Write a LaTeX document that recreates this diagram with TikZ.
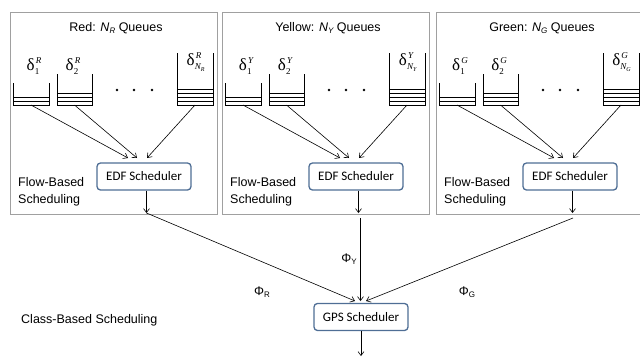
\documentclass[tikz,border=0pt]{standalone}
\usepackage{fontspec}
\setmainfont{Liberation Sans}
\newfontfamily\calfont{Carlito}
\newfontfamily\tmsfont{Liberation Serif}
\usetikzlibrary{arrows.meta}
\definecolor{schedblue}{HTML}{4F6E95}
\definecolor{panelgray}{HTML}{A0A0A0}
\newcommand\dlab[2]{{\tmsfont\fontsize{17}{17}\selectfont δ}{\tmsfont\fontsize{9}{9}\selectfont\rlap{\raisebox{-4pt}{#1}}\raisebox{7pt}{\kern1pt\itshape #2}}}
\newcommand\qbox[4]{%
  \draw[qline] (#1,#3) -- (#1,105) -- (#2,105) -- (#2,#3);
  \foreach \k in {1,...,#4} {\draw[qline] (#1,105-4*\k) -- (#2,105-4*\k);}
}
\begin{document}
\begin{tikzpicture}[x=1pt,y=-1pt,
  panel/.style={draw=panelgray, line width=0.8pt, inner sep=0pt, anchor=north west},
  sched/.style={draw=schedblue, line width=1.3pt, rounded corners=3.5pt, fill=white,
    minimum width=94pt, minimum height=27pt, inner sep=0pt,
    font=\calfont\fontsize{13}{14}\selectfont},
  qline/.style={line width=0.9pt, black},
  conn/.style={-{Straight Barb[length=4pt,width=6pt]}, line width=0.6pt},
  title/.style={font=\fontsize{12.5}{14}\selectfont, inner sep=0pt},
  lbl/.style={font=\fontsize{12.5}{17}\selectfont, align=left, inner sep=0pt},
  dl/.style={inner sep=0pt}]
\useasboundingbox (0,0) rectangle (640,357);

\foreach \c/\dx/\ttl in {R/0/Red, Y/212/Yellow, G/426/Green} {
 \begin{scope}[xshift=\dx]
   \node[panel, minimum width=207pt, minimum height=202pt] (panel\c) at (10,12) {};
   \node[title] (title\c) at (116,28) {\ttl: \textit{N}\raisebox{-2.5pt}{\fontsize{8}{8}\selectfont\itshape\c} Queues};
   \qbox{13}{49}{83}{2}
   \qbox{57}{92}{74}{3}
   \qbox{177}{213}{53}{4}
   \coordinate (qa\c) at (31,105);
   \coordinate (qb\c) at (74.5,105);
   \coordinate (qc\c) at (195,105);
   \node[dl] (da\c) at (34,66) {\dlab{1}{\c}};
   \node[dl] (db\c) at (73,66) {\dlab{2}{\c}};
   \node[dl] (dc\c) at (194,62) {\dlab{\itshape N\raisebox{-2pt}{\fontsize{6}{6}\selectfont\c}}{\c}};
   \fill (117,90) circle (1.3pt) (134,90) circle (1.3pt) (152,90) circle (1.3pt);
   \node[sched] (edf\c) at (144,176.5) {EDF Scheduler};
   \coordinate (ta\c) at (128,158);
   \coordinate (tb\c) at (137,158);
   \coordinate (tc\c) at (147,158);
   \draw[conn] (qa\c) -- (ta\c);
   \draw[conn] (qb\c) -- (tb\c);
   \draw[conn] (qc\c) -- (tc\c);
   \coordinate (out\c) at (146.5,213);
   \draw[conn] (edf\c.south -| out\c) -- (out\c);
   \node[lbl, anchor=west] (flow\c) at (18,192) {Flow-Based\\Scheduling};
 \end{scope}
}

\node[sched] (gps) at (361,317) {GPS Scheduler};
\coordinate (inR) at (355,301);
\coordinate (inY) at (360.5,301);
\coordinate (inG) at (366,301);
\coordinate (sY) at (360.5,218);
\coordinate (sG) at (573,218);
\coordinate (final) at (361,356);
\draw[conn] (outR) -- (inR);
\draw[conn] (sY) -- (inY);
\draw[conn] (sG) -- (inG);
\draw[conn] (gps.south) -- (final);
\node[title] (phiR) at (262,292) {Φ\raisebox{-2.5pt}{\fontsize{8}{8}\selectfont R}};
\node[title] (phiY) at (349,259) {Φ\raisebox{-2.5pt}{\fontsize{8}{8}\selectfont Y}};
\node[title] (phiG) at (467,292) {Φ\raisebox{-2.5pt}{\fontsize{8}{8}\selectfont G}};
\node[lbl, anchor=west] (cls) at (21,320) {Class-Based Scheduling};
\end{tikzpicture}
\end{document}
